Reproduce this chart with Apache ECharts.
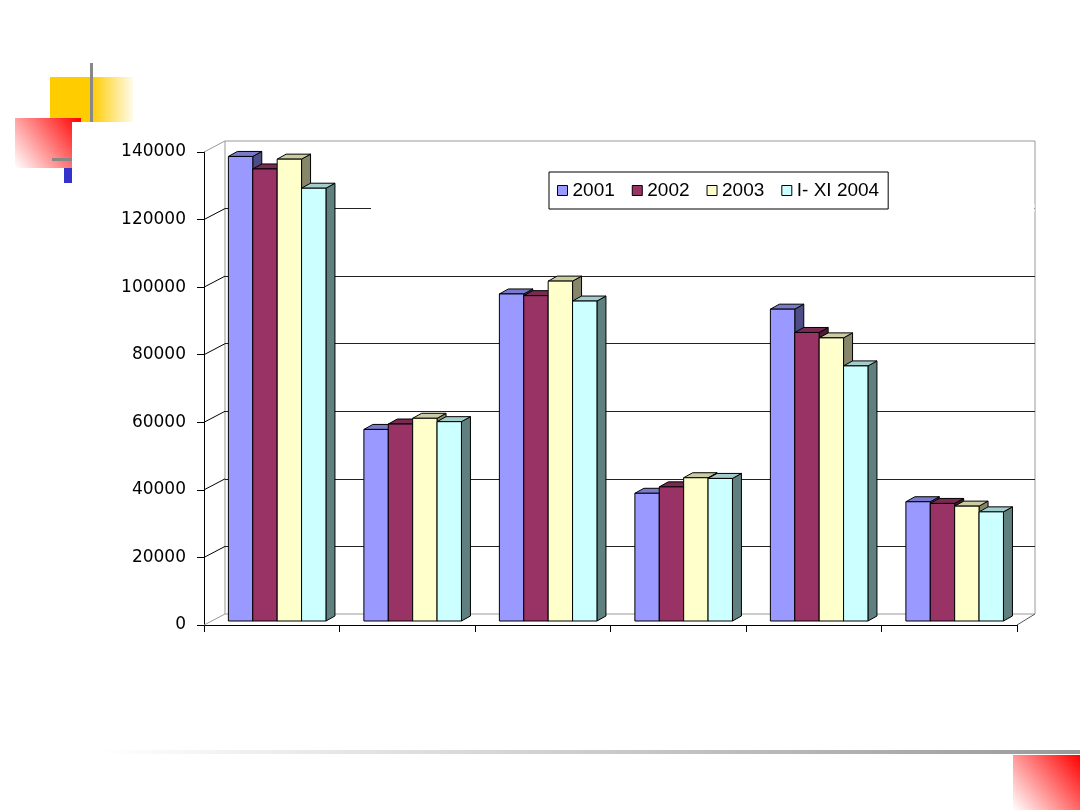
<!DOCTYPE html>
<html>
<head>
<meta charset="utf-8">
<script src="https://cdn.jsdelivr.net/npm/echarts@6/dist/echarts.min.js"></script>
<style>
html, body { margin: 0; padding: 0; background: #fff; }
#main { width: 1080px; height: 810px; }
</style>
</head>
<body>
<div id="main"></div>
<script>
// 数据
const categories = ['1', '2', '3', '4', '5', '6'];
const seriesNames = ['2001', '2002', '2003', 'I- XI 2004'];
const values2001 = [137500, 56700, 96800, 37800, 92300, 35300];
const values2002 = [133800, 58300, 96300, 39700, 85400, 34800];
const values2003 = [136700, 60000, 100600, 42400, 83800, 34000];
const values2004 = [128100, 59000, 94700, 42200, 75500, 32300];
const yMin = 0;
const yMax = 140000;
const yStep = 20000;

// 颜色：正面 / 顶面 / 侧面
const faceColors = ['#9999ff', '#993366', '#ffffcc', '#ccffff'];
const topColors = ['#7a7acc', '#7a2952', '#cccca3', '#a3cccc'];
const sideColors = ['#4d4d88', '#4d1a33', '#86866a', '#608080'];

// 伪3D的几何参数
const front = { left: 204, right: 63, top: 152, bottom: 185 };
const back = { left: 225, right: 45, top: 141, bottom: 196 };
const barDx = 9, barDy = 5, barLift = 4;

const chart = echarts.init(document.getElementById('main'));

function renderBar(params, api) {
    const cat = api.value(0);
    const val = api.value(1);
    const topPt = api.coord([cat, val]);
    const basePt = api.coord([cat, 0]);
    const band = api.size([1, 0])[0];
    const w = band * 0.18;
    const x = topPt[0] - band * 0.32 + params.seriesIndex * w;
    const yT = topPt[1] - barLift;
    const yB = basePt[1] - barLift;
    const i = params.seriesIndex;
    const stroke = { stroke: '#000', lineWidth: 1 };
    return {
        type: 'group',
        children: [
            {
                type: 'polygon',
                shape: { points: [[x + w, yT], [x + w + barDx, yT - barDy], [x + w + barDx, yB - barDy], [x + w, yB]] },
                style: Object.assign({ fill: sideColors[i] }, stroke)
            },
            {
                type: 'polygon',
                shape: { points: [[x, yT], [x + barDx, yT - barDy], [x + w + barDx, yT - barDy], [x + w, yT]] },
                style: Object.assign({ fill: topColors[i] }, stroke)
            },
            {
                type: 'rect',
                shape: { x: x, y: yT, width: w, height: yB - yT },
                style: Object.assign({ fill: faceColors[i] }, stroke)
            }
        ]
    };
}

const allValues = [values2001, values2002, values2003, values2004];
const series = allValues.map(function (vals, i) {
    return {
        name: seriesNames[i],
        type: 'custom',
        xAxisIndex: 0,
        yAxisIndex: 0,
        renderItem: renderBar,
        itemStyle: { color: faceColors[i], borderColor: '#000', borderWidth: 1 },
        encode: { x: 0, y: 1 },
        data: vals.map(function (v, k) { return [k, v]; })
    };
});

// 幻灯片装饰
function redGrad() {
    return new echarts.graphic.LinearGradient(1, 0, 0, 1, [
        { offset: 0, color: '#ff0000' },
        { offset: 1, color: '#ffffff' }
    ]);
}
const decorations = [
    { id: 'yellow', type: 'rect', z: 1, shape: { x: 50, y: 77, width: 83, height: 45 },
      style: { fill: new echarts.graphic.LinearGradient(0, 0, 1, 0, [
          { offset: 0, color: '#ffcc00' }, { offset: 0.5, color: '#ffcc00' }, { offset: 1, color: '#fffbea' }]) } },
    { id: 'vline', type: 'rect', z: 1, shape: { x: 90, y: 63, width: 3, height: 59 }, style: { fill: '#888' } },
    { id: 'red1', type: 'rect', z: 1, shape: { x: 15, y: 118, width: 66, height: 50 }, style: { fill: redGrad() } },
    { id: 'cover', type: 'rect', z: 1, shape: { x: 72, y: 122, width: 12, height: 50 }, style: { fill: '#fff' } },
    { id: 'hline', type: 'rect', z: 1, shape: { x: 52, y: 158, width: 20, height: 3 }, style: { fill: '#888' } },
    { id: 'blue', type: 'rect', z: 1, shape: { x: 64, y: 168, width: 8, height: 15 }, style: { fill: '#3333cc' } },
    { id: 'bottomline', type: 'rect', z: 1, shape: { x: 100, y: 750, width: 980, height: 4 },
      style: { fill: new echarts.graphic.LinearGradient(0, 0, 1, 0, [
          { offset: 0, color: '#ffffff' }, { offset: 1, color: '#999999' }]) } },
    { id: 'red2', type: 'rect', z: 1, shape: { x: 1013, y: 755, width: 67, height: 55 }, style: { fill: redGrad() } },
    // 120000 网格线在图中右侧被遮住
    { id: 'gridcover', type: 'rect', z: 1, shape: { x: 371, y: 204, width: 663.5, height: 8 }, style: { fill: '#fff' } }
];

const option = {
    animation: false,
    backgroundColor: '#fff',
    grid: [
        { left: front.left, right: front.right, top: front.top, bottom: front.bottom },
        { left: back.left, right: back.right, top: back.top, bottom: back.bottom,
          show: true, borderColor: '#999', borderWidth: 1, backgroundColor: 'transparent' }
    ],
    xAxis: [
        {
            gridIndex: 0, type: 'category', data: categories,
            axisLine: { lineStyle: { color: '#000', width: 1 } },
            axisTick: { show: true, length: 7, lineStyle: { color: '#000' } },
            axisLabel: { show: false },
            splitLine: { show: false }
        },
        { gridIndex: 1, type: 'category', data: categories, show: false }
    ],
    yAxis: [
        {
            gridIndex: 0, type: 'value', min: yMin, max: yMax, interval: yStep,
            axisLine: { show: true, lineStyle: { color: '#000', width: 1 } },
            axisTick: { show: true, length: 7, lineStyle: { color: '#000' } },
            axisLabel: {
                fontFamily: 'DejaVu Sans', fontSize: 17, color: '#000', margin: 18,
                formatter: function (v) { return String(v); }
            },
            splitLine: { show: false }
        },
        {
            gridIndex: 1, type: 'value', min: yMin, max: yMax, interval: yStep,
            axisLine: { show: false }, axisTick: { show: false }, axisLabel: { show: false },
            splitLine: { show: true, showMinLine: false, showMaxLine: false, lineStyle: { color: '#222', width: 1 } }
        }
    ],
    legend: {
        data: seriesNames,
        left: 549, top: 172,
        orient: 'horizontal',
        itemWidth: 10, itemHeight: 10, itemGap: 17,
        icon: 'rect',
        padding: [9, 9, 9, 8],
        borderColor: '#000', borderWidth: 1, backgroundColor: '#fff',
        itemStyle: { borderColor: '#000', borderWidth: 1 },
        textStyle: { fontFamily: 'Liberation Sans', fontSize: 19, color: '#000' }
    },
    graphic: decorations,
    series: series
};

chart.setOption(option);

// 侧墙与地板的连接线
const extra = [];
for (let v = yMin; v <= yMax; v += yStep) {
    const yf = chart.convertToPixel({ yAxisIndex: 0 }, v);
    const yb = chart.convertToPixel({ yAxisIndex: 1 }, v);
    const edge = (v === yMin || v === yMax);
    extra.push({
        id: 'conn' + v, type: 'line', z: 1,
        shape: { x1: front.left, y1: yf, x2: back.left, y2: yb },
        style: { stroke: edge ? '#999' : '#000', lineWidth: 1 }
    });
}
const yf0 = chart.convertToPixel({ yAxisIndex: 0 }, 0);
const yb0 = chart.convertToPixel({ yAxisIndex: 1 }, 0);
extra.push({
    id: 'connRight', type: 'line', z: 1,
    shape: { x1: 1080 - front.right, y1: yf0, x2: 1080 - back.right, y2: yb0 },
    style: { stroke: '#555', lineWidth: 1 }
});
chart.setOption({ graphic: extra });
</script>
</body>
</html>
